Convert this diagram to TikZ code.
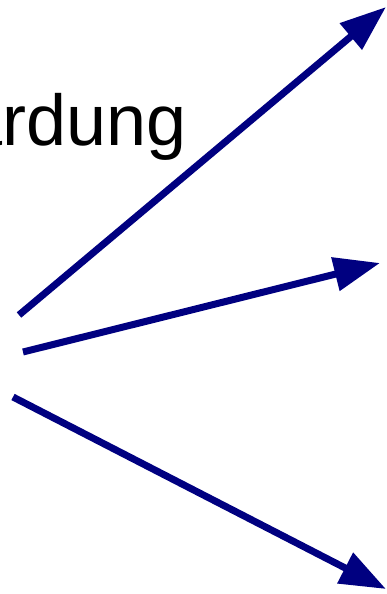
\documentclass[tikz,border=0pt]{standalone}
\usepackage{fontspec}
\setmainfont{Liberation Sans}
\usetikzlibrary{arrows.meta}
\definecolor{arrownavy}{RGB}{0,0,128}
\tikzset{
  fanarrow/.style={draw=arrownavy, line width=7pt, -{Triangle[length=46pt, width=33pt]}},
}
\begin{document}
\begin{tikzpicture}[x=1pt, y=-1pt]
        % Frame
        \useasboundingbox (0,0) rectangle (387,594);
        \clip (0,0) rectangle (387,594);
        
        % Cut-off label
        \node[anchor=base west, inner sep=0pt, font=\fontsize{72}{80}\selectfont] (label) at (-38,145) {ardung};
        
        % Arrow ends
        \coordinate (tailA) at (19,315);
        \coordinate (tailB) at (23,352);
        \coordinate (tailC) at (13,397);
        \coordinate (headA) at (386,7);
        \coordinate (headB) at (380,263);
        \coordinate (headC) at (386,589);
        
        % Fan of arrows
        \draw[fanarrow] (tailA) -- (headA);
        \draw[fanarrow] (tailB) -- (headB);
        \draw[fanarrow] (tailC) -- (headC);
    \end{tikzpicture}
\end{document}
